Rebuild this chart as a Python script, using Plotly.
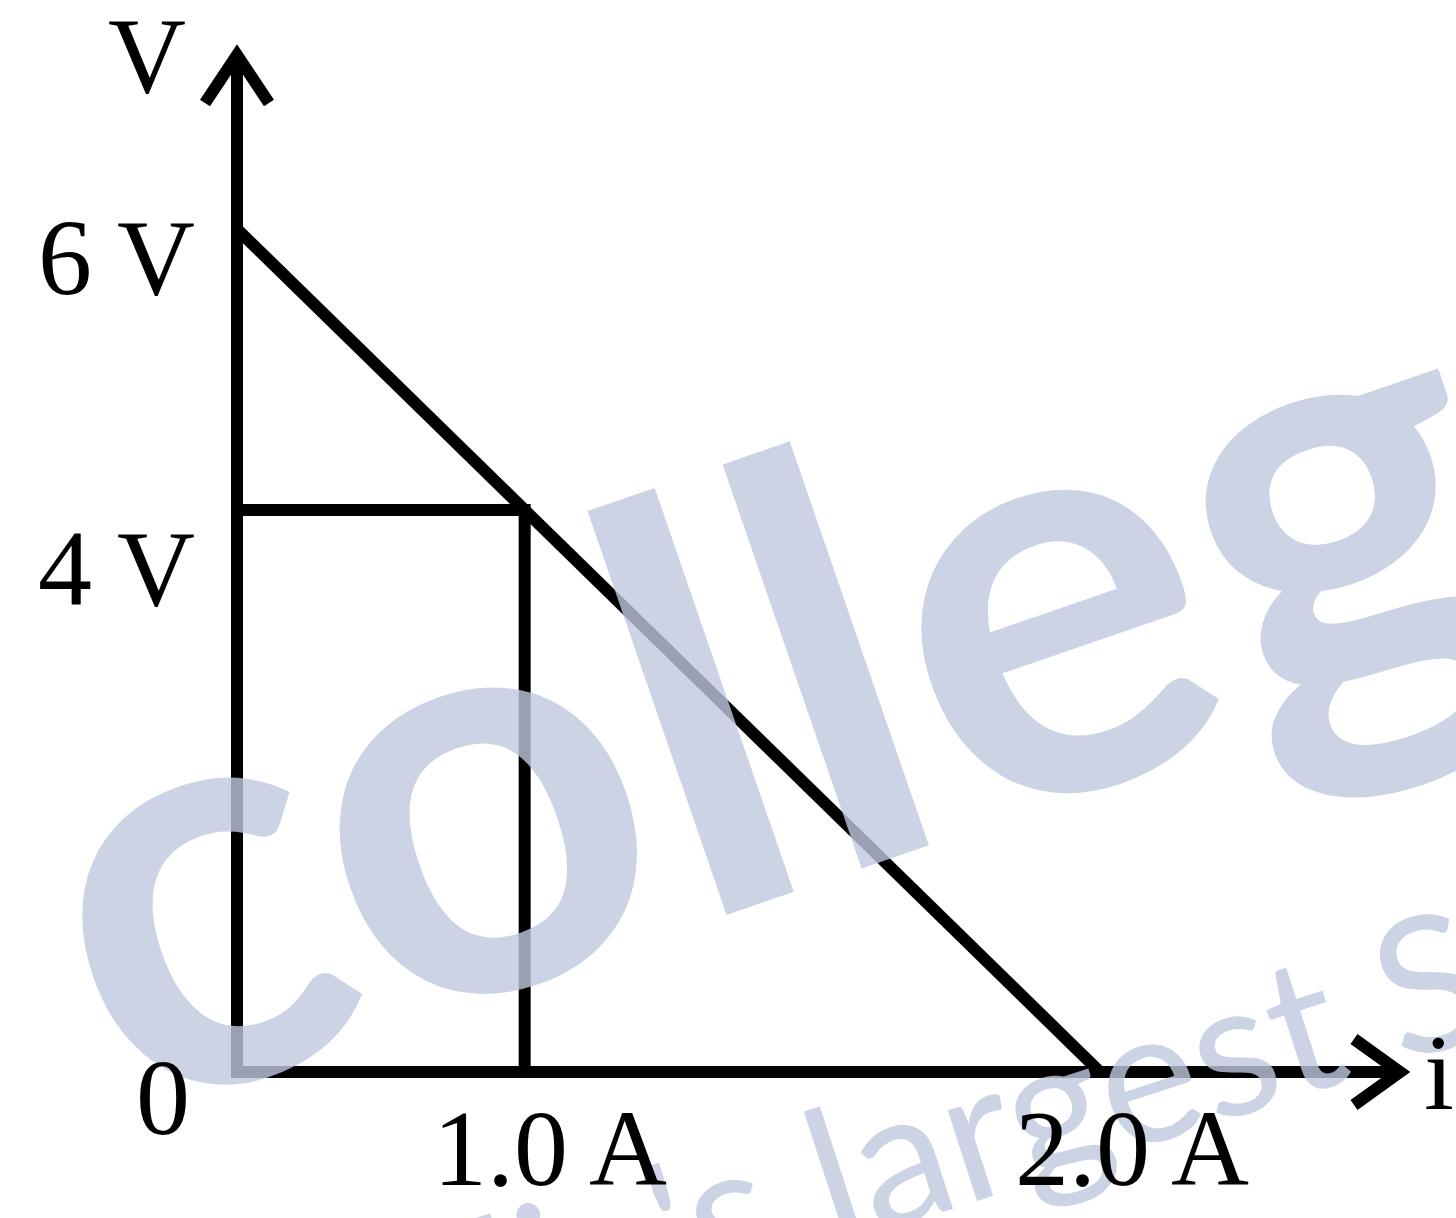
import plotly.graph_objects as go

# source characteristic (V-i graph of a cell)
emf_v = 6.0          # V at i = 0
short_i = 2.0        # A at V = 0
op_v = 4.0           # marked operating voltage
op_i = 1.0           # marked operating current

y_ticks = [emf_v, op_v]
y_tick_labels = ["6 V", "4 V"]
x_tick_labels = ["1.0 A", "2.0 A"]
origin_label = "0"
y_name, x_name = "V", "i"

W, H = 1456, 1218
ox, oy = 237, 1072          # origin in pixels
px_x = 431.5                # pixels per unit on x
px_y = 140.5                # pixels per volt

# the drawing is a sketch: the 1.0 A mark sits where the line meets 4 V
knee_x = short_i * (1 - op_v / emf_v)

x_rng = [-ox / px_x, (W - ox) / px_x]
y_rng = [-(H - oy) / px_y, oy / px_y]

x_tip = (1400 - ox) / px_x
y_tip = (oy - 55) / px_y
# chevron size in data units
cx, cy = 32 / px_x, 48 / px_y
hx, hy = 46 / px_x, 33 / px_y

lw = 12
black = "#000000"

fig = go.Figure()

# watermark
wm = "rgba(190,200,222,0.8)"
fig.add_annotation(text="collegedunia", xref="paper", yref="paper",
                   x=1569 / W, y=1 - 389 / H, xanchor="center", yanchor="middle",
                   showarrow=False, textangle=-19,
                   font=dict(family="Lato", size=575, color=wm, weight="bold"))
fig.add_annotation(text="India's largest Student Review Platform", xref="paper", yref="paper",
                   x=1796 / W, y=1 - 858 / H, xanchor="center", yanchor="middle",
                   showarrow=False, textangle=-18,
                   font=dict(family="Lato", size=188, color=wm))

# axes with arrow heads
fig.add_trace(go.Scatter(x=[0, 0, x_tip], y=[y_tip, 0, 0], mode="lines",
                         line=dict(color=black, width=lw)))
fig.add_trace(go.Scatter(x=[-cx, 0, cx], y=[y_tip - cy, y_tip, y_tip - cy], mode="lines",
                         line=dict(color=black, width=lw)))
fig.add_trace(go.Scatter(x=[x_tip - hx, x_tip, x_tip - hx], y=[hy, 0, -hy], mode="lines",
                         line=dict(color=black, width=lw)))

# V-i line
fig.add_trace(go.Scatter(x=[0, short_i], y=[emf_v, 0], mode="lines",
                         line=dict(color=black, width=lw)))
# operating point guides
fig.add_trace(go.Scatter(x=[0, knee_x, knee_x], y=[op_v, op_v, 0], mode="lines",
                         line=dict(color=black, width=lw)))

tf = dict(family="Liberation Serif", size=108, color=black)

# y labels
for yv, lab, dy in zip(y_ticks, y_tick_labels, [-28, -58]):
    fig.add_annotation(text=lab, x=0, y=yv, xanchor="right", yanchor="middle",
                       xshift=-40, yshift=dy, showarrow=False, font=tf)
# x labels
for xv, lab, dx in zip([knee_x, short_i], x_tick_labels, [25, 32]):
    fig.add_annotation(text=lab, x=xv, y=0, xanchor="center", yanchor="middle",
                       xshift=dx, yshift=-76, showarrow=False, font=tf)
fig.add_annotation(text=origin_label, x=0, y=0, xanchor="right", yanchor="middle",
                   xshift=-45, yshift=-25, showarrow=False, font=tf)
fig.add_annotation(text=y_name, x=0, y=y_tip, xanchor="center", yanchor="middle",
                   xshift=-90, yshift=0, showarrow=False, font=tf)
fig.add_annotation(text=x_name, x=x_tip, y=0, xanchor="left", yanchor="middle",
                   xshift=22, yshift=0, showarrow=False, font=tf)

fig.update_xaxes(range=x_rng, visible=False)
fig.update_yaxes(range=y_rng, visible=False)
fig.update_layout(width=W, height=H, margin=dict(l=0, r=0, t=0, b=0),
                  plot_bgcolor="white", paper_bgcolor="white", showlegend=False)

# drop the page's default body margin so the figure fills the window
fig.write_html("out.html", config={"displayModeBar": False},
               post_script="document.body.style.margin='0';")
